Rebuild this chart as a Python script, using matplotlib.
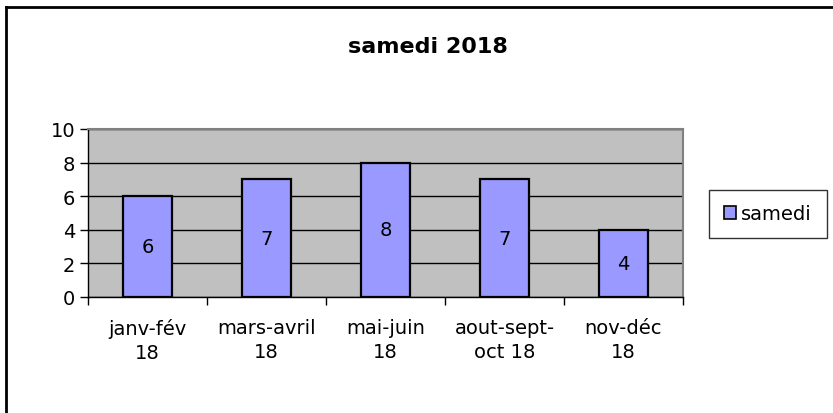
import matplotlib
matplotlib.use("Agg")
import matplotlib.pyplot as plt
from matplotlib.lines import Line2D
from matplotlib.patches import Patch

# data
categories = ["janv-fév\n18", "mars-avril\n18", "mai-juin\n18", "aout-sept-\noct 18", "nov-déc\n18"]
values = [6, 7, 8, 7, 4]
series_name = "samedi"
title = "samedi 2018"
y_ticks = [0, 2, 4, 6, 8, 10]

bar_color = "#9999FF"
plot_bg = "#C0C0C0"

plt.rcParams["font.family"] = ["DejaVu Sans"]

fig = plt.figure(figsize=(8.33, 4.14), dpi=100)
ax = fig.add_axes([88 / 833, 116 / 414, 595 / 833, 168 / 414])
ax.set_facecolor(plot_bg)

x = list(range(len(categories)))
ax.bar(x, values, width=0.42, color=bar_color, edgecolor="black", linewidth=1.6,
       label=series_name, zorder=3)

# data labels in the middle of each bar
for xi, v in zip(x, values):
    ax.text(xi, v / 2, str(v), ha="center", va="center", fontsize=14, zorder=4)

ax.set_xlim(-0.5, len(categories) - 0.5)
ax.set_ylim(0, 10)
ax.set_yticks(y_ticks)
ax.yaxis.grid(True, color="black", linewidth=1.0, zorder=1)
ax.set_axisbelow(True)

# category ticks sit on the boundaries, labels in the middle
ax.set_xticks([i - 0.5 for i in range(len(categories) + 1)])
ax.set_xticklabels([])
ax.set_xticks(x, minor=True)
ax.set_xticklabels(categories, minor=True, fontsize=14, linespacing=1.35)
ax.tick_params(axis="x", which="minor", length=0, pad=15)
ax.tick_params(axis="x", which="major", length=6, width=1, direction="out")
ax.tick_params(axis="y", length=6, width=1, labelsize=14, pad=3)

for side in ["left", "bottom"]:
    ax.spines[side].set_color("black")
    ax.spines[side].set_linewidth(1.0)
for side in ["top", "right"]:
    ax.spines[side].set_color("#808080")
    ax.spines[side].set_linewidth(1.5)

fig.text(428 / 833, 1 - 47 / 414, title, ha="center", va="center",
         fontsize=16, fontweight="bold")

# legend
handle = Patch(facecolor=bar_color, edgecolor="black", linewidth=1.2)
leg = fig.legend([handle], [series_name], loc="center",
                 bbox_to_anchor=(768 / 833, 1 - 215 / 414),
                 fontsize=14, frameon=True, fancybox=False, edgecolor="black",
                 handlelength=0.6, handleheight=0.6, handletextpad=0.3,
                 borderpad=0.75, borderaxespad=0)
leg.get_frame().set_linewidth(1.0)

# chart area border (top and left visible)
fig.add_artist(Line2D([6 / 833, 6 / 833], [0, 1 - 8 / 414], transform=fig.transFigure,
                      color="black", linewidth=2))
fig.add_artist(Line2D([6 / 833, 1], [1 - 8 / 414, 1 - 8 / 414], transform=fig.transFigure,
                      color="black", linewidth=2))

fig.savefig("out.png", dpi=100)
